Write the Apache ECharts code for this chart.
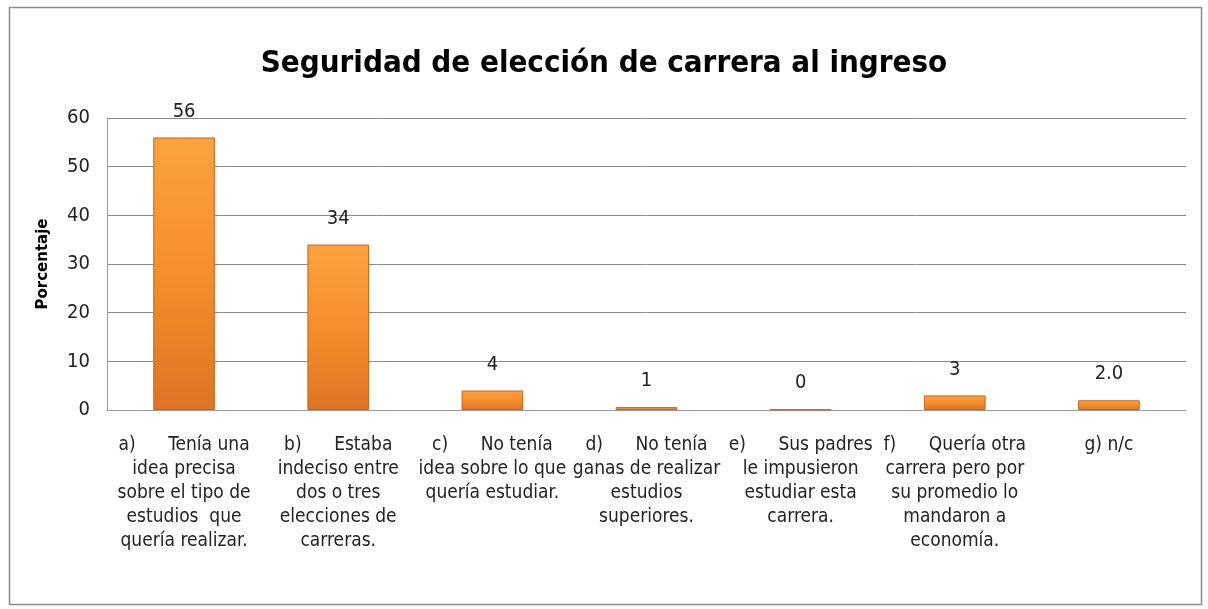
<!DOCTYPE html>
<html><head><meta charset="utf-8">
<script src="https://cdn.jsdelivr.net/npm/echarts@6/dist/echarts.min.js"></script>
<style>html,body{margin:0;padding:0;background:#fff}#c{width:1208px;height:609px}</style>
</head><body><div id="c"></div>
<script>
const title = 'Seguridad de elección de carrera al ingreso';
const categories = [
  'a)      Tenía una\nidea precisa\nsobre el tipo de\nestudios  que\nquería realizar.',
  'b)      Estaba\nindeciso entre\ndos o tres\nelecciones de\ncarreras.',
  'c)      No tenía\nidea sobre lo que\nquería estudiar.',
  'd)      No tenía\nganas de realizar\nestudios\nsuperiores.',
  'e)      Sus padres\nle impusieron\nestudiar esta\ncarrera.',
  'f)      Quería otra\ncarrera pero por\nsu promedio lo\nmandaron a\neconomía.',
  'g) n/c'
];
const values = [56, 34, 4, 0.6, 0.1, 3, 2];
const valueLabels = ['56', '34', '4', '1', '0', '3', '2.0'];
const yTicks = [0, 10, 20, 30, 40, 50, 60];

const font = '"DejaVu Sans Condensed", sans-serif';
const chart = echarts.init(document.getElementById('c'), null, {renderer: 'canvas'});
chart.setOption({
  animation: false,
  backgroundColor: '#fff',
  graphic: [{
    type: 'rect', left: 7, top: 5, shape: {width: 1192, height: 597},
    style: {fill: 'none', stroke: '#8c8c8c', lineWidth: 1.5}, silent: true
  }],
  title: {
    text: title, left: 'center', top: 43,
    textStyle: {fontFamily: font, fontWeight: 'bold', fontSize: 31, color: '#000'}
  },
  grid: {left: 107, right: 22, top: 118, bottom: 199, containLabel: false},
  xAxis: {
    type: 'category', data: categories,
    axisLine: {lineStyle: {color: '#999', width: 1}},
    axisTick: {show: false},
    axisLabel: {interval: 0, margin: 23, fontFamily: font, fontSize: 19, color: '#222', lineHeight: 24, align: 'center'}
  },
  yAxis: {
    type: 'value', min: 0, max: 60, interval: 10,
    name: 'Porcentaje', nameLocation: 'middle', nameGap: 56, nameRotate: 90,
    nameTextStyle: {fontFamily: '"DejaVu Sans", sans-serif', fontWeight: 'bold', fontSize: 15, color: '#000'},
    axisLine: {show: true, lineStyle: {color: '#999'}},
    axisTick: {show: false},
    axisLabel: {fontFamily: font, fontSize: 20, color: '#222', margin: 17,
      formatter: v => yTicks.includes(v) ? String(v) : ''},
    splitLine: {lineStyle: {color: '#8a8a8a', width: 1}}
  },
  series: [{
    type: 'bar', data: values, barWidth: '40%',
    itemStyle: {
      color: new echarts.graphic.LinearGradient(0, 0, 0, 1, [
        {offset: 0, color: '#FBA23E'}, {offset: 0.5, color: '#F58E2C'}, {offset: 1, color: '#DE7423'}
      ]),
      borderColor: '#C8661E', borderWidth: 1
    },
    label: {
      show: true, position: 'top', distance: 16,
      fontFamily: font, fontSize: 20, color: '#222',
      formatter: p => valueLabels[p.dataIndex]
    }
  }]
});
</script></body></html>
